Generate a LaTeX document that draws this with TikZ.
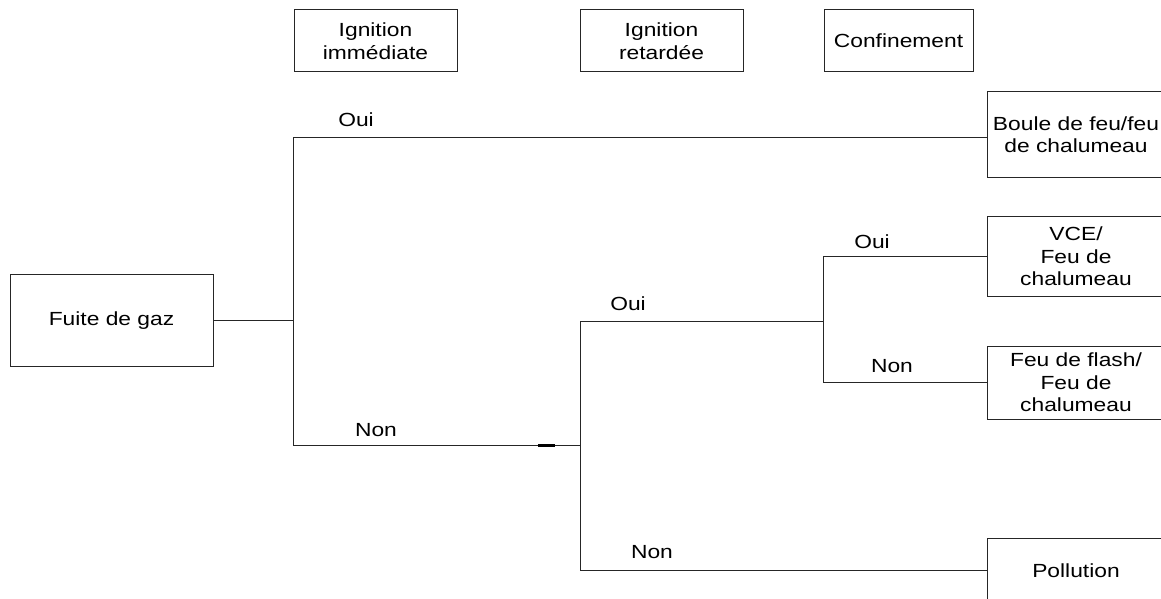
\documentclass[tikz,border=0pt]{standalone}
\usepackage{fontspec}
\setmainfont{Liberation Sans}[FakeStretch=1.2]
\begin{document}
\begin{tikzpicture}[x=1pt,y=-1pt,
  every node/.style={font=\fontsize{19}{22.5}\selectfont},
  box/.style={draw=black!85,line width=1pt,inner sep=0pt,align=center},
  wire/.style={draw=black!85,line width=1pt},
  lbl/.style={inner sep=0pt}]
\clip (0,0) rectangle (1161,599);

% column headers
\node[box,minimum width=163pt,minimum height=62pt] (hdrA) at (375.5,41) {Ignition\\immédiate};
\node[box,minimum width=163pt,minimum height=62pt] (hdrB) at (661.5,41) {Ignition\\retardée};
\node[box,minimum width=149pt,minimum height=62pt] (hdrC) at (898.5,41) {Confinement};

% initiating event
\node[box,minimum width=203pt,minimum height=92pt] (fuite) at (111.5,320.5) {Fuite de gaz};

% outcomes (right column)
\node[box,minimum width=178pt,minimum height=85pt] (boule) at (1076,134.5) {Boule de feu/feu\\de chalumeau};
\node[box,minimum width=178pt,minimum height=80pt] (vce) at (1076,256.5) {VCE/\\Feu de\\chalumeau};
\node[box,minimum width=178pt,minimum height=73pt] (flash) at (1076,382.5) {Feu de flash/\\Feu de\\chalumeau};
\node[box,minimum width=178pt,minimum height=64pt] (pollu) at (1076,570.5) {Pollution};

% branching points
\coordinate (j1) at (293.5,320.5);
\coordinate (j2) at (580.5,445.5);
\coordinate (j3) at (823.5,321.5);

% event tree
\draw[wire] (fuite.east) -- (j1);
\draw[wire] ([yshift=-2.5pt]boule.west) -| (j1) |- (j2);
\draw[wire] (j3) -| (j2) |- (pollu.west);
\draw[wire] (vce.west) -| (j3) |- (flash.west);
\draw[line width=2.2pt,black] (538,445.5) -- (555,445.5);

% branch labels
\node[lbl] (l1) at (356,120) {Oui};
\node[lbl] (l2) at (376,430) {Non};
\node[lbl] (l3) at (628,304) {Oui};
\node[lbl] (l4) at (652,552) {Non};
\node[lbl] (l5) at (872,242) {Oui};
\node[lbl] (l6) at (892,366) {Non};
\end{tikzpicture}
\end{document}
